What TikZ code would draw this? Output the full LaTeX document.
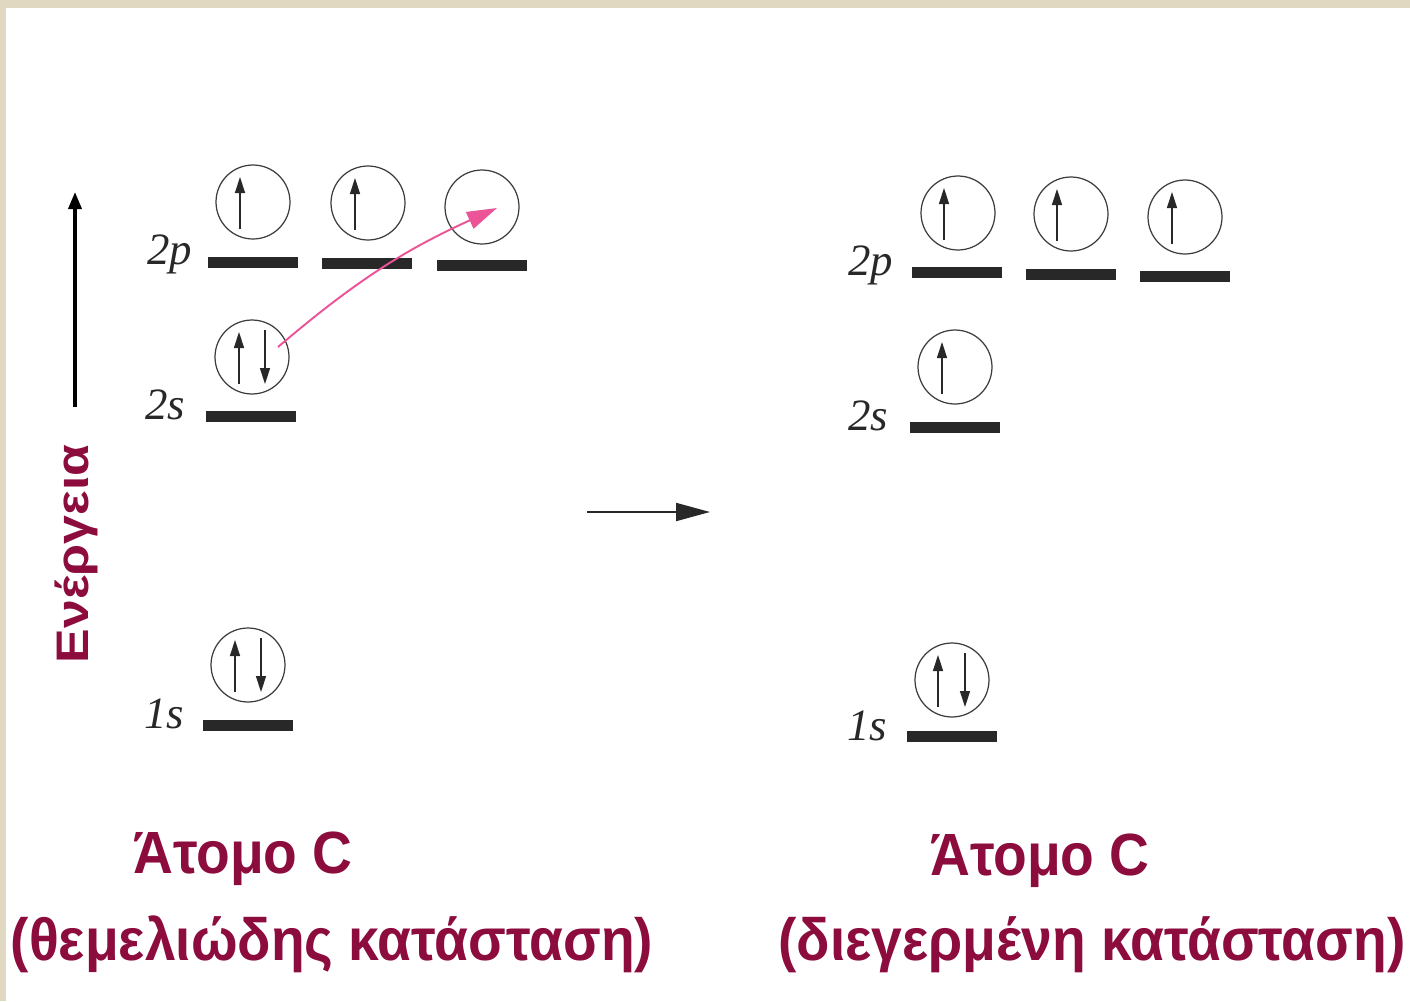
\documentclass[tikz,border=0pt]{standalone}
\usepackage{fontspec}
\setmainfont{Liberation Serif}
\newfontfamily\grk{Liberation Sans}
\usetikzlibrary{arrows.meta,calc}
\definecolor{maroon}{RGB}{140,12,62}
\definecolor{beige}{RGB}{224,216,192}
\definecolor{pinkc}{RGB}{236,84,152}
\definecolor{ink}{RGB}{40,40,40}
\newcommand\spinup[2]{\draw[spin] ($(#1)+(#2,27)$) -- ($(#1)+(#2,-25)$);}
\newcommand\spindn[2]{\draw[spin] ($(#1)+(#2,-27)$) -- ($(#1)+(#2,27)$);}
\begin{document}
\begin{tikzpicture}[x=0.02cm,y=-0.02cm,
  bar/.style={rectangle, fill=ink, draw=none, minimum width=1.8cm, minimum height=0.22cm, inner sep=0},
  orb/.style={circle, draw=ink!90, line width=0.7pt, minimum size=1.48cm, inner sep=0},
  spin/.style={draw=ink, line width=0.8pt, -{Triangle[length=0.32cm,width=0.2cm]}},
  lvl/.style={font=\fontsize{25.5pt}{30pt}\selectfont\itshape, text=ink, anchor=base west, inner sep=0},
  title/.style={font=\grk\bfseries\fontsize{31.4pt}{36pt}\selectfont, text=maroon, anchor=base, inner sep=0},
]
\useasboundingbox (0,0) rectangle (1410,1001);
\fill[beige] (0,0) rectangle (1410,1001);
\fill[white] (6,8) rectangle (1410,1001);

% energy axis
\coordinate (ea0) at (75,407);
\coordinate (ea1) at (75,192);
\draw[line width=2pt, black, -{Triangle[length=0.34cm,width=0.26cm]}] (ea0) -- (ea1);
\node[rotate=90, anchor=base, text=maroon, inner sep=0, font=\grk\bfseries\fontsize{29.5pt}{34pt}\selectfont] (en) at (88,554) {\scalebox{1}[0.88]{Ενέργεια}};

% ---------- left: ground state ----------
\node[bar] (lp1) at (253,262) {};
\node[bar] (lp2) at (367,263) {};
\node[bar] (lp3) at (482,265) {};
\node[orb] (lcp1) at (253,202) {};
\node[orb] (lcp2) at (368,203) {};
\node[orb] (lcp3) at (482,207) {};
\spinup{lcp1}{-13}
\spinup{lcp2}{-13}
\node[lvl] (l2p) at (147,264) {2p};

\node[bar] (ls2) at (251,416) {};
\node[orb] (lcs2) at (252,357) {};
\spinup{lcs2}{-13}
\spindn{lcs2}{13}
\node[lvl] (l2s) at (145,419) {2s};

\node[bar] (ls1) at (248,725) {};
\node[orb] (lcs1) at (248,665) {};
\spinup{lcs1}{-13}
\spindn{lcs1}{13}
\node[lvl] (l1s) at (144,728) {1s};

% excitation arrow
\coordinate (exs) at (278,347);
\coordinate (ext) at (497,208);
\draw[pinkc, line width=1.1pt, -{Triangle[length=0.6cm,width=0.36cm]}] (exs) to[bend left=8] (ext);

% middle arrow
\coordinate (ma0) at (587,512);
\coordinate (ma1) at (710,512);
\draw[ink, line width=1.1pt, -{Triangle[length=0.68cm,width=0.36cm]}] (ma0) -- (ma1);

% ---------- right: excited state ----------
\node[bar] (rp1) at (957,272) {};
\node[bar] (rp2) at (1071,274) {};
\node[bar] (rp3) at (1185,276) {};
\node[orb] (rcp1) at (958,213) {};
\node[orb] (rcp2) at (1071,214) {};
\node[orb] (rcp3) at (1185,217) {};
\spinup{rcp1}{-14}
\spinup{rcp2}{-14}
\spinup{rcp3}{-13}
\node[lvl] (r2p) at (848,275) {2p};

\node[bar] (rs2) at (955,427) {};
\node[orb] (rcs2) at (955,367) {};
\spinup{rcs2}{-13}
\node[lvl] (r2s) at (848,430) {2s};

\node[bar] (rs1) at (952,736) {};
\node[orb] (rcs1) at (952,680) {};
\spinup{rcs1}{-14}
\spindn{rcs1}{13}
\node[lvl] (r1s) at (847,740) {1s};

% titles
\node[title] (t1) at (243,873) {\scalebox{1}[1.08]{Άτομο C}};
\node[title] (t2) at (332,960) {\scalebox{1}[1.08]{(θεμελιώδης κατάσταση)}};
\node[title] (t3) at (1040,875) {\scalebox{1}[1.08]{Άτομο C}};
\node[title] (t4) at (1092,960) {\scalebox{1}[1.08]{(διεγερμένη κατάσταση)}};
\end{tikzpicture}
\end{document}
